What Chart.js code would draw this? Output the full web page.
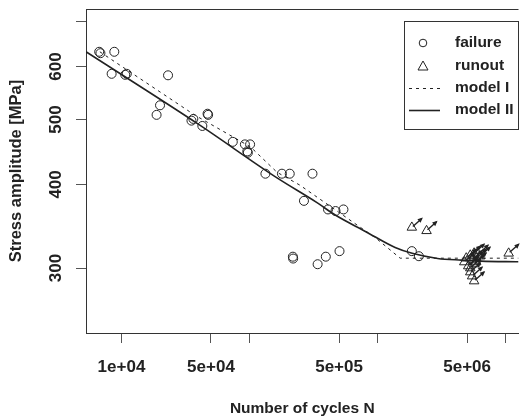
<!DOCTYPE html>
<html>
<head>
<meta charset="utf-8">
<script src="https://cdn.jsdelivr.net/npm/chart.js@4/dist/chart.umd.min.js"></script>
<style>
  html, body { margin: 0; padding: 0; background: #fff; overflow: hidden; }
  #wrap { width: 525px; height: 420px; }
</style>
</head>
<body>
<div id="wrap"><canvas id="chart" width="525" height="420"></canvas></div>
<script>
// failures (cycles N, stress amplitude MPa)
const failureN = [6700, 6850, 8790, 8380, 10700, 11000, 23100, 20000, 18800, 35200, 36400, 42800,
  47000, 47500, 74000, 92000, 101000, 96000, 97000, 133000, 179000, 206000, 310000, 266000,
  410000, 469000, 541000, 218000, 219000, 340000, 394000, 504000, 1850000, 2100000];
const failureS = [631, 628, 631, 585, 583, 585, 582, 525, 508, 498, 501, 489,
  510, 508, 463, 459, 459, 448, 446, 415, 415, 415, 415, 378,
  367, 365, 367, 312, 310, 304, 312, 318, 318, 312.5];

// runouts
const runoutN = [1850000, 2410000, 4920000, 5290000, 5670000, 6090000, 4750000, 5470000, 5880000,
  6310000, 5100000, 5290000, 5670000, 5290000, 5470000, 5670000, 5880000, 10550000];
const runoutS = [345, 341, 310.4, 313.5, 315.7, 314.6, 306.3, 308.4, 310.4,
  312.5, 302.1, 300, 304.2, 295.9, 291.8, 286.9, 306.3, 315.6];

// model curves
const modelIN = [6780, 37100, 101800, 164000, 247000, 966000, 1500000, 12600000];
const modelIS = [631, 508, 455, 417, 399, 332.7, 310.4, 310.4];
const modelIIN = [5285, 39800, 164000, 334000, 467000, 809000, 1370000, 1860000, 2940000, 4510000, 6420000, 12600000];
const modelIIS = [631, 492, 409, 376, 360, 340, 322, 315.6, 310.1, 308.3, 307.3, 306.6];

const xTicks = [1e4, 5e4, 1e5, 5e5, 1e6, 5e6, 1e7];
const xTickLabels = ['1e+04', '5e+04', '', '5e+05', '', '5e+06', ''];
const yTicks = [300, 400, 500, 600, 700];
const yTickLabels = ['300', '400', '500', '600', ''];

const FONT = "'Liberation Sans', Arial, sans-serif";
const INK = '#222';

function pts(xs, ys) {
  return xs.map((x, i) => ({ x: x, y: ys[i] }));
}

// rotated y tick labels, runout arrows, top frame line
const decorations = {
  id: 'decorations',
  afterDatasetsDraw(chart) {
    const ctx = chart.ctx;
    const area = chart.chartArea;
    const ys = chart.scales.y;
    ctx.save();
    // top line of the box
    ctx.strokeStyle = '#333';
    ctx.lineWidth = 1;
    ctx.beginPath();
    ctx.moveTo(area.left, area.top + 0.5);
    ctx.lineTo(area.right, area.top + 0.5);
    ctx.stroke();

    // arrows on runouts
    const meta = chart.getDatasetMeta(1);
    ctx.strokeStyle = INK;
    ctx.fillStyle = INK;
    ctx.lineWidth = 1.4;
    meta.data.forEach(p => {
      const x0 = p.x + 1, y0 = p.y - 1, x1 = p.x + 10, y1 = p.y - 9;
      ctx.beginPath();
      ctx.moveTo(x0, y0);
      ctx.lineTo(x1, y1);
      ctx.stroke();
      const a = Math.atan2(y1 - y0, x1 - x0);
      ctx.beginPath();
      ctx.moveTo(x1 + 1, y1 - 1);
      ctx.lineTo(x1 - 4.5 * Math.cos(a - 0.55), y1 - 4.5 * Math.sin(a - 0.55));
      ctx.lineTo(x1 - 4.5 * Math.cos(a + 0.55), y1 - 4.5 * Math.sin(a + 0.55));
      ctx.closePath();
      ctx.fill();
    });

    // y tick labels, rotated like R
    ctx.font = 'bold 17px ' + FONT;
    ctx.fillStyle = INK;
    ctx.textAlign = 'center';
    ctx.textBaseline = 'middle';
    yTicks.forEach((v, i) => {
      if (!yTickLabels[i]) return;
      const py = ys.getPixelForValue(v);
      ctx.save();
      ctx.translate(56, py);
      ctx.rotate(-Math.PI / 2);
      ctx.fillText(yTickLabels[i], 0, 0);
      ctx.restore();
    });
    ctx.restore();
  }
};

// legend box in the top right corner
const boxLegend = {
  id: 'boxLegend',
  afterDraw(chart) {
    const ctx = chart.ctx;
    const ds = chart.data.datasets;
    ctx.save();
    ctx.fillStyle = '#fff';
    ctx.fillRect(404, 21, 114, 108);
    ctx.strokeStyle = '#333';
    ctx.lineWidth = 1;
    ctx.strokeRect(404.5, 21.5, 114, 108);
    const rows = [43, 66, 88, 110];
    ctx.font = 'bold 15.5px ' + FONT;
    ctx.textBaseline = 'middle';
    ctx.textAlign = 'left';
    ds.forEach((d, i) => {
      const y = rows[i];
      ctx.strokeStyle = INK;
      ctx.lineWidth = 1;
      if (i === 0) {
        ctx.beginPath();
        ctx.arc(423, y, 3.8, 0, Math.PI * 2);
        ctx.stroke();
      } else if (i === 1) {
        ctx.beginPath();
        ctx.moveTo(423, y - 5);
        ctx.lineTo(428, y + 4);
        ctx.lineTo(418, y + 4);
        ctx.closePath();
        ctx.stroke();
      } else {
        ctx.setLineDash(d.borderDash || []);
        ctx.lineWidth = d.borderWidth;
        ctx.beginPath();
        ctx.moveTo(409, y + 0.5);
        ctx.lineTo(440, y + 0.5);
        ctx.stroke();
        ctx.setLineDash([]);
      }
      ctx.fillStyle = INK;
      ctx.fillText(d.label, 455, y);
    });
    ctx.restore();
  }
};

new Chart(document.getElementById('chart'), {
  type: 'scatter',
  data: {
    datasets: [
      {
        label: 'failure',
        data: pts(failureN, failureS),
        pointStyle: 'circle',
        pointRadius: 4.5,
        pointBorderWidth: 1,
        borderColor: INK,
        backgroundColor: 'rgba(0,0,0,0)'
      },
      {
        label: 'runout',
        data: pts(runoutN, runoutS),
        pointStyle: 'triangle',
        pointRadius: 5.5,
        pointBorderWidth: 1,
        borderColor: INK,
        backgroundColor: 'rgba(255,255,255,0)'
      },
      {
        label: 'model I',
        data: pts(modelIN, modelIS),
        showLine: true,
        pointRadius: 0,
        borderColor: INK,
        borderWidth: 1,
        borderDash: [3, 4]
      },
      {
        label: 'model II',
        data: pts(modelIIN, modelIIS),
        showLine: true,
        pointRadius: 0,
        borderColor: INK,
        borderWidth: 1.6,
        cubicInterpolationMode: 'monotone'
      }
    ]
  },
  options: {
    responsive: false,
    animation: false,
    layout: { padding: { top: 9, right: 0, left: 0, bottom: 0 } },
    plugins: {
      legend: { display: false },
      tooltip: { enabled: false }
    },
    scales: {
      x: {
        type: 'logarithmic',
        min: 5285,
        max: 12590000,
        afterBuildTicks: s => { s.ticks = xTicks.map(v => ({ value: v })); },
        afterFit: s => { s.height = 87; },
        ticks: {
          autoSkip: false,
          maxRotation: 0,
          padding: 14,
          color: INK,
          font: { family: FONT, size: 17, weight: 'bold' },
          callback: v => xTickLabels[xTicks.indexOf(v)] || ''
        },
        grid: { drawOnChartArea: false, drawTicks: true, tickLength: 10, tickColor: '#555' },
        border: { display: true, color: '#333', width: 1 },
        title: {
          display: true,
          text: 'Number of cycles N',
          color: INK,
          font: { family: FONT, size: 15.5, weight: 'bold' },
          padding: { top: 0, bottom: 2 }
        }
      },
      y: {
        type: 'logarithmic',
        min: 240,
        max: 731,
        afterBuildTicks: s => { s.ticks = yTicks.map(v => ({ value: v })); },
        afterFit: s => { s.width = 86; },
        ticks: { display: false },
        grid: { drawOnChartArea: false, drawTicks: true, tickLength: 10, tickColor: '#555' },
        border: { display: true, color: '#333', width: 1 },
        title: {
          display: true,
          text: 'Stress amplitude [MPa]',
          color: INK,
          font: { family: FONT, size: 16.5, weight: 'bold' },
          padding: { top: 7, bottom: 0 }
        }
      }
    }
  },
  plugins: [decorations, boxLegend]
});
</script>
</body>
</html>
